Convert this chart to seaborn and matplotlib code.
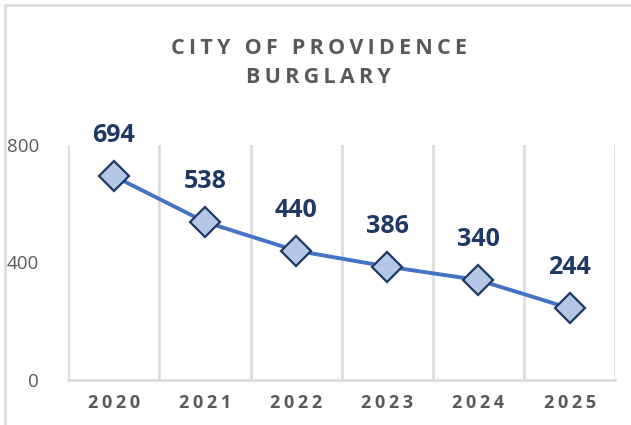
import matplotlib
matplotlib.use("Agg")
import matplotlib.pyplot as plt
import seaborn as sns
import pandas as pd
from matplotlib.lines import Line2D

# chart data
years = ["2020", "2021", "2022", "2023", "2024", "2025"]
burglaries = [694, 538, 440, 386, 340, 244]
y_ticks = [0, 400, 800]

df = pd.DataFrame({"pos": range(len(years)), "count": burglaries})

sns.set_style("white")
plt.rcParams["font.family"] = ["Open Sans", "DejaVu Sans"]

grey = "#595959"
navy = "#1F3864"
grid = "#D9D9D9"
thin = "\u2009"

fig = plt.figure(figsize=(6.31, 4.25), dpi=100)
ax = fig.add_axes([0.108, 0.106, 0.867, 0.553])

sns.lineplot(data=df, x="pos", y="count", ax=ax, color="#4472C4", linewidth=2.8,
             marker="D", markersize=15, markerfacecolor="#B4C7E7",
             markeredgecolor=navy, markeredgewidth=1.6, zorder=3)

for x, v in zip(df["pos"], df["count"]):
    ax.annotate(str(v), (x, v), xytext=(0, 20), textcoords="offset points",
                ha="center", va="bottom", fontsize=18, fontweight="bold", color=navy)

ax.set_xlim(-0.5, len(years) - 0.5)
ax.set_ylim(0, 800)
ax.set_yticks(y_ticks)
ax.set_yticklabels([str(t) for t in y_ticks], color=grey, fontsize=13.5)
ax.set_xticks(range(len(years)))
ax.set_xticklabels([thin.join(y) for y in years], color=grey, fontsize=13, fontweight="bold")
ax.tick_params(axis="y", length=0, pad=21)
ax.tick_params(axis="x", length=0, pad=10)
ax.set_xlabel("")
ax.set_ylabel("")

# vertical gridlines between categories
for b in range(len(years) + 1):
    ax.axvline(b - 0.5, color=grid, linewidth=1.8, zorder=0)
for s in ["top", "right", "left"]:
    ax.spines[s].set_visible(False)
ax.spines["bottom"].set_color(grid)
ax.spines["bottom"].set_linewidth(1.8)

title = "CITY OF PROVIDENCE\nBURGLARY"
spaced = "\n".join((thin * 2 + " ").join(thin.join(w) for w in line.split(" ")) for line in title.split("\n"))
fig.text(0.505, 0.852, spaced, ha="center", va="center", fontsize=15.5,
         fontweight="bold", color=grey, linespacing=1.5)

# chart border (partially visible)
fig.add_artist(Line2D([0.008, 0.008], [0, 0.988], transform=fig.transFigure, color=grid, linewidth=1.8))
fig.add_artist(Line2D([0.008, 1], [0.988, 0.988], transform=fig.transFigure, color=grid, linewidth=1.8))

fig.savefig("out.png", dpi=100)
